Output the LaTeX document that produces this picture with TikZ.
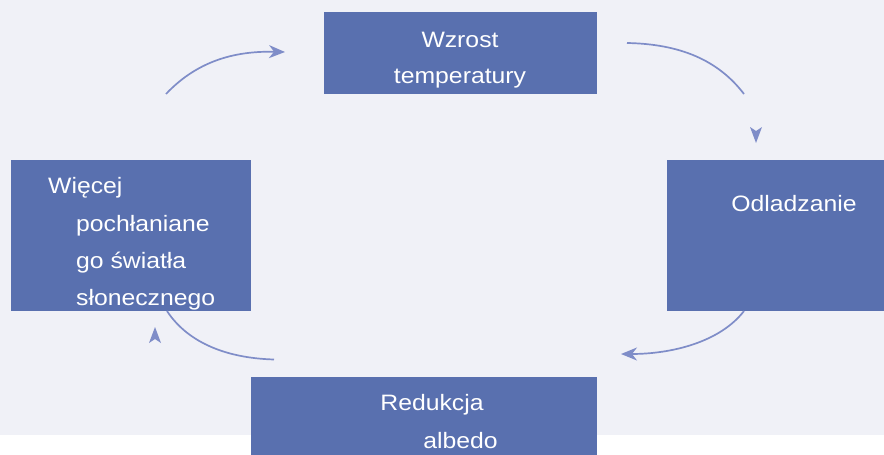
\documentclass[tikz,border=0pt]{standalone}
\usepackage{fontspec}
\setmainfont{Liberation Sans}[FakeStretch=1.11]
\usetikzlibrary{arrows.meta}
\definecolor{bgc}{HTML}{F0F1F7}
\definecolor{boxc}{HTML}{5970AF}
\definecolor{arrc}{HTML}{7F8DC8}
\tikzset{
  box/.style={fill=boxc, draw=none, inner sep=0pt, outer sep=0pt},
  txt/.style={text=white, font=\fontsize{22.3}{26}\selectfont, inner sep=0pt, anchor=base},
  txtw/.style={txt, anchor=base west},
  conn/.style={draw=arrc, line width=1.7pt},
  connarr/.style={conn, -{Stealth[length=16pt,width=13pt,inset=5pt]}},
  lonehead/.style={fill=arrc, draw=none}
}
\begin{document}
\begin{tikzpicture}[x=1pt,y=-1pt]
\useasboundingbox (0,0) rectangle (884,455);
\fill[white] (0,0) rectangle (884,455);
\fill[bgc] (0,0) rectangle (884,435);
% boxes
\node[box, minimum width=273pt, minimum height=82pt, anchor=north west] (top) at (324,12) {};
\node[box, minimum width=217pt, minimum height=151pt, anchor=north west] (right) at (667,160) {};
\node[box, minimum width=346pt, minimum height=78pt, anchor=north west] (bottom) at (251,377) {};
\node[box, minimum width=240pt, minimum height=151pt, anchor=north west] (left) at (11,160) {};
% texts
\node[txt] (t1) at (460,47.3) {Wzrost};
\node[txt] (t2) at (460,83.3) {temperatury};
\node[txt] (t3) at (794,211.7) {Odladzanie};
\node[txt] (t4) at (432,410.7) {Redukcja};
\node[txt] (t5) at (460.5,448.3) {albedo};
\node[txtw] (t6) at (48,193.3) {Więcej};
\node[txtw] (t7) at (76,231) {pochłaniane};
\node[txtw] (t8) at (76,268.3) {go światła};
\node[txtw] (t9) at (76,305) {słonecznego};
% connector end points
\coordinate (a1s) at (166,94);
\coordinate (a1e) at (285,52);
\coordinate (a2s) at (627,43);
\coordinate (a2e) at (744,94);
\coordinate (a3s) at (744,311);
\coordinate (a3e) at (621,354);
\coordinate (a4s) at (274,359.5);
\coordinate (a4e) at (167,311);
% connectors
\draw[connarr] (a1s) .. controls (200,58) and (240,51) .. (a1e);
\draw[conn] (a2s) .. controls (680,44) and (718,60) .. (a2e);
\draw[connarr] (a3s) .. controls (720,342) and (672,354) .. (a3e);
\draw[conn] (a4s) .. controls (222,358) and (186,340) .. (a4e);
% lone arrowheads
\fill[lonehead] (756,143) -- (750,127) -- (756,131) -- (762,127) -- cycle;
\fill[lonehead] (155,327) -- (149,343) -- (155,339) -- (161,343) -- cycle;
\end{tikzpicture}
\end{document}
